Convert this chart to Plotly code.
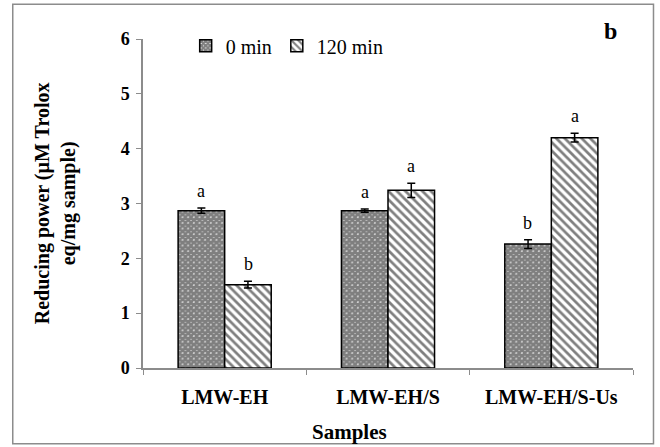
import plotly.graph_objects as go

categories = ["LMW-EH", "LMW-EH/S", "LMW-EH/S-Us"]
series_names = ["0 min", "120 min"]
values_0 = [2.87, 2.87, 2.26]
values_120 = [1.52, 3.24, 4.20]
err_0 = [0.05, 0.03, 0.08]
err_120 = [0.06, 0.13, 0.08]
letters_0 = ["a", "a", "b"]
letters_120 = ["b", "a", "a"]
y_ticks = [0, 1, 2, 3, 4, 5, 6]

FONT = "Liberation Serif"

W, H = 660, 447
L, R, T, B = 143.3, 660 - 633.5, 39.3, 447 - 368.3
pw, ph = W - L - R, H - T - B


def px_x(x):
    return (x - L) / pw


def px_y(y):
    return 1 - (y - T) / ph


fig = go.Figure()
fig.add_trace(go.Bar(
    name=series_names[0], x=categories, y=values_0,
    marker=dict(color="white", line=dict(color="black", width=1.5),
                pattern=dict(shape="x", size=4, solidity=0.9, fgcolor="black", bgcolor="white")),
    error_y=dict(type="data", array=err_0, color="black", thickness=1.5, width=4),
))
fig.add_trace(go.Bar(
    name=series_names[1], x=categories, y=values_120,
    marker=dict(color="white", line=dict(color="black", width=1.5),
                pattern=dict(shape="\\", size=6, solidity=0.45, fgcolor="black", bgcolor="white")),
    error_y=dict(type="data", array=err_120, color="black", thickness=1.5, width=4),
))

bar_half = 23.4
for i, c in enumerate(categories):
    for vals, errs, lets, sh in ((values_0, err_0, letters_0, -bar_half),
                                 (values_120, err_120, letters_120, bar_half)):
        fig.add_annotation(x=c, y=vals[i] + errs[i], xref="x", yref="y", text=lets[i],
                           showarrow=False, xshift=sh, xanchor="center", yanchor="bottom",
                           yshift=5, font=dict(family=FONT, size=18, color="black"))

fig.add_annotation(x=px_x(56), y=px_y((39.3 + 368.3) / 2), xref="paper", yref="paper",
                   text="Reducing power (µM Trolox<br>eq/mg sample)", textangle=-90,
                   showarrow=False, xanchor="center", yanchor="middle",
                   font=dict(family=FONT, size=20, color="black", weight="bold"))
fig.add_annotation(text="Samples", x=px_x(350), y=px_y(432), xref="paper", yref="paper",
                   showarrow=False, xanchor="center", yanchor="middle",
                   font=dict(family=FONT, size=21, color="black", weight="bold"))
fig.add_annotation(text="b", x=px_x(611), y=px_y(31), xref="paper", yref="paper",
                   showarrow=False, xanchor="center", yanchor="middle",
                   font=dict(family=FONT, size=24, color="black", weight="bold"))

fig.update_layout(
    width=W, height=H,
    margin=dict(l=L, r=R, t=T, b=B),
    paper_bgcolor="white", plot_bgcolor="white",
    barmode="group", bargap=0.43, bargroupgap=0,
    font=dict(family=FONT, color="black"),
    showlegend=True,
    legend=dict(orientation="h", x=px_x(186), y=px_y(46), xanchor="left", yanchor="middle",
                font=dict(family=FONT, size=20, color="black"),
                itemwidth=30, bgcolor="rgba(0,0,0,0)"),
    shapes=[dict(type="rect", xref="paper", yref="paper",
                 x0=px_x(13), x1=px_x(654), y0=px_y(444), y1=px_y(4.5),
                 line=dict(color="#8c8c8c", width=1.5), layer="below")],
)
fig.update_xaxes(showline=True, linecolor="#8c8c8c", linewidth=1.5,
                 ticks="outside", tickson="boundaries", ticklen=5, tickcolor="#8c8c8c",
                 showgrid=False, ticklabelstandoff=10,
                 tickfont=dict(family=FONT, size=20, color="black", weight="bold"))
fig.update_yaxes(range=[0, 6], tickvals=y_ticks, showline=True, linecolor="#8c8c8c",
                 linewidth=1.5, ticks="outside", ticklen=5, tickcolor="#8c8c8c",
                 showgrid=False, zeroline=False, ticklabelstandoff=3,
                 tickfont=dict(family=FONT, size=18, color="black", weight="bold"))

fig.write_html("out.html")
